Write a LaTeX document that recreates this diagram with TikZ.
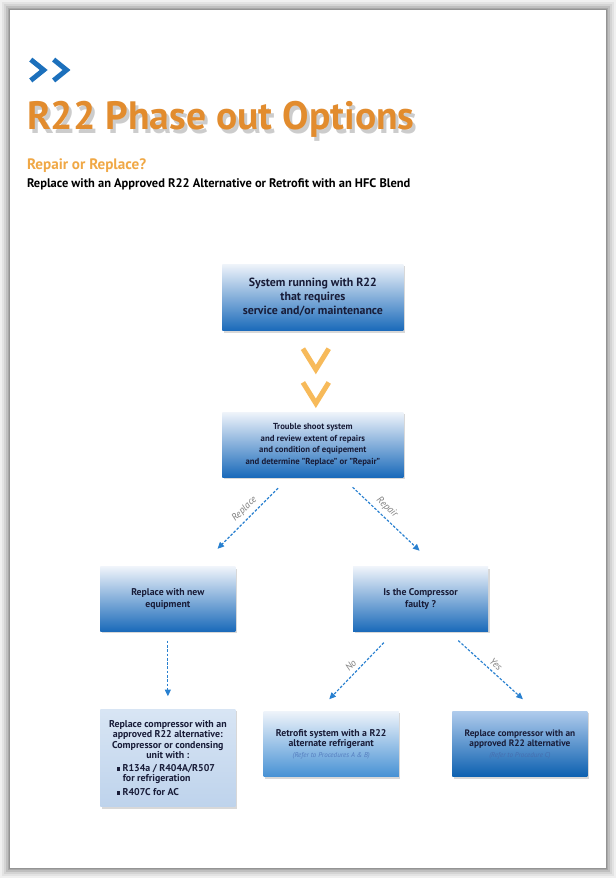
\documentclass[tikz,border=0pt]{standalone}
\usepackage{fontspec}
\setmainfont{PT Sans}
\usepackage{tikz}
\usetikzlibrary{positioning,arrows.meta,calc,shadows}

\definecolor{titleorange}{RGB}{226,140,46}
\definecolor{suborange}{RGB}{240,168,70}
\definecolor{chevblue}{RGB}{28,112,188}
\definecolor{chevorange}{RGB}{247,186,90}
\definecolor{boxtop}{RGB}{238,243,250}
\definecolor{boxbottom}{RGB}{26,106,186}
\definecolor{listtop}{RGB}{216,229,244}
\definecolor{listbottom}{RGB}{190,211,236}
\definecolor{retrobottom}{RGB}{70,145,212}
\definecolor{repltop}{RGB}{175,203,236}
\definecolor{replbottom}{RGB}{12,96,176}
\definecolor{boxtext}{RGB}{24,28,56}
\definecolor{flowblue}{RGB}{40,128,208}
\definecolor{refblue}{RGB}{84,124,190}
\definecolor{reflight}{RGB}{70,110,175}

\newcommand{\sqbul}{\rule[0.25mm]{1.1mm}{1.1mm}}

\begin{document}
\begin{tikzpicture}[x=0.3mm, y=-0.3mm, every node/.style={font=\bfseries},
  box/.style={align=center, text=boxtext, minimum width=54.6mm, minimum height=20mm, top color=boxtop, bottom color=boxbottom, drop shadow={shadow xshift=0.5mm, shadow yshift=-0.6mm, opacity=0.3}},
  smallbox/.style={box, minimum width=40.8mm, minimum height=19.5mm, font=\bfseries\fontsize{8.4}{10.5}\selectfont},
  headtext/.style={anchor=base west, inner sep=0pt},
  flow/.style={draw=flowblue, line width=0.35mm, dash pattern=on 0.8mm off 0.5mm, -{Triangle[width=1.8mm,length=2mm]}},
  flowlabel/.style={sloped, above, inner sep=1.2mm, font=\mdseries\itshape\fontsize{8.5}{9}\selectfont, text=black!50},
  chevron/.style={line width=1.5mm, line join=miter}]

% page and its shadow
\fill[white] (0,0) rectangle (620,878);
\foreach \d/\k in {10/6,8/11,6/17,4/25,2/34,1/42}
  \fill[black!\k] (10-\d,7-\d) rectangle (610+\d,871+\d);
\fill[white] (10,7) rectangle (610,871);
\useasboundingbox (0,0) rectangle (620,878);

% heading
\draw[chevron, chevblue] (31,57) -- (44,67.5) -- (31,78);
\draw[chevron, chevblue] (54,57) -- (67,67.5) -- (54,78);
\node[headtext, font=\bfseries\fontsize{34}{38}\selectfont, text=black, opacity=0.2] (titleshadow) at (30,131) {R22 Phase out Options};
\node[headtext, font=\bfseries\fontsize{34}{38}\selectfont, text=titleorange] (title) at (27,127) {R22 Phase out Options};
\node[headtext, font=\bfseries\fontsize{13}{15}\selectfont, text=suborange] (question) at (27,168) {Repair or Replace?};
\node[headtext, font=\bfseries\fontsize{10.7}{12}\selectfont] (intro) at (27,186) {Replace with an Approved R22 Alternative or Retrofit with an HFC Blend};

% flow chart
\node[box, font=\bfseries\fontsize{10.2}{12}\selectfont] (system) at (315,296.5) {System running with R22\\that requires\\service and/or maintenance};
\node[box, below=24.6mm of system, minimum height=19.5mm, font=\bfseries\fontsize{7.5}{10}\selectfont] (trouble) {Trouble shoot system\\and review extent of repairs\\and condition of equipement\\and determine "Replace" or "Repair"};
\node[smallbox, below=27mm of trouble, xshift=-43.8mm] (newequip) {Replace with new\\equipment};
\node[smallbox, right=35.4mm of newequip] (compressor) {Is the Compressor\\faulty ?};
\node[smallbox, below=23.4mm of newequip, minimum height=29.4mm, top color=listtop, bottom color=listbottom, font=\bfseries\fontsize{8.5}{8.8}\selectfont] (altlist) {Replace compressor with an\\approved R22 alternative:\\Compressor or condensing\\unit with :\\[4pt]\parbox{31mm}{\raggedright\sqbul\ R134a / R404A/R507\\\hspace*{1.9mm}for refrigeration\\[3pt]\sqbul\ R407C for AC}};
\node[smallbox, below=24mm of compressor, xshift=-27mm, minimum height=19.8mm, bottom color=retrobottom, font=\bfseries\fontsize{8.4}{9}\selectfont] (retrofit) {Retrofit system with a R22\\alternate refrigerant\\{\color{refblue}\fontsize{6}{8}\mdseries\itshape\selectfont(Refer to Procedures A \& B)}};
\node[smallbox, below=24mm of compressor, xshift=30mm, minimum height=19.8mm, top color=repltop, bottom color=replbottom, font=\bfseries\fontsize{8}{9}\selectfont] (replcomp) {Replace compressor with an\\approved R22 alternative\\{\color{reflight}\fontsize{6}{8}\mdseries\itshape\selectfont(Refer to Procedure C)}};

% connectors
\draw[chevron, chevorange] ($(system.south)+(-10,18)$) -- ++(13,21) -- ++(13,-21);
\draw[chevron, chevorange] ($(system.south)+(-10,52)$) -- ++(13,21) -- ++(13,-21);
\draw[flow] ($(trouble.south)+(-35,11)$) -- node[flowlabel, pos=0.45] (replacelbl) {Replace} ($(newequip.north)+(50,-18)$);
\draw[flow] ($(trouble.south)+(40,10)$) -- node[flowlabel, pos=0.42] (repairlbl) {Repair} ($(compressor.north)+(-1,-16)$);
\draw[flow] ($(newequip.south)+(0,9)$) -- ($(altlist.north)+(0,-13)$);
\draw[flow] ($(compressor.south)+(-37,11)$) -- node[flowlabel] (nolbl) {No} ($(retrofit.north)+(-2,-12)$);
\draw[flow] ($(compressor.south)+(38,9)$) -- node[flowlabel] (yeslbl) {Yes} ($(replcomp.north)+(3,-12)$);
\end{tikzpicture}
\end{document}
